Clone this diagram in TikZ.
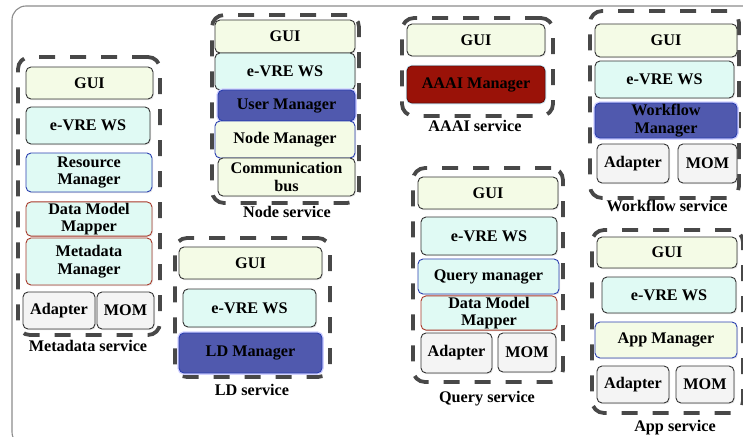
\documentclass[tikz,border=0pt]{standalone}
\usepackage{fontspec}
\setmainfont{Liberation Serif}
\usetikzlibrary{shadows}
\definecolor{guiC}{HTML}{F4FBE6}
\definecolor{wsC}{HTML}{E0FAF4}
\definecolor{dblue}{HTML}{5059AE}
\definecolor{dred}{HTML}{9A1208}
\definecolor{grayF}{HTML}{F4F4F4}
\definecolor{bblue}{HTML}{2A3FB0}
\definecolor{bred}{HTML}{A8392A}
\definecolor{dashC}{HTML}{484848}
\definecolor{frameC}{HTML}{8C8C8C}
\tikzset{
  box/.style={draw=black!80, line width=0.9pt, rounded corners=5pt, inner sep=1pt,
    align=center, font=\fontsize{16.2}{17.5}\selectfont\bfseries,
    drop shadow={opacity=0.18, shadow xshift=1pt, shadow yshift=-1.2pt}},
  gui/.style={box, fill=guiC},
  ws/.style={box, fill=wsC},
  bluebox/.style={box, fill=wsC, draw=bblue},
  redbox/.style={box, fill=wsC, draw=bred},
  yblue/.style={box, fill=guiC, draw=bblue},
  darkblue/.style={box, fill=dblue, draw=bblue, preaction={draw=blue!18, line width=3.5pt}},
  darkred/.style={box, fill=dred, draw=dred!70!black, preaction={draw=cyan!25, line width=2.5pt}},
  gbox/.style={box, fill=grayF},
  dbox/.style={draw=dashC, line width=3.8pt, dash pattern=on 16pt off 15pt, rounded corners=12pt, inner sep=0pt},
  lbl/.style={font=\fontsize{16.2}{17.5}\selectfont\bfseries, inner sep=0pt}
}
\begin{document}
\begin{tikzpicture}[x=1pt, y=-1pt]
\useasboundingbox (0,0) rectangle (743,436);
\begin{scope}
\clip (0,0) rectangle (743,436);
\node[draw=frameC, line width=1.1pt, rounded corners=14pt, minimum width=760pt, minimum height=440pt, inner sep=0pt] (frame) at (392,226) {};

% Metadata service
\node[dbox, minimum width=142pt, minimum height=278pt] (mdD) at (89,196) {};
\node[gui, minimum width=127pt, minimum height=32pt] (mdG) at (89.5,83) {GUI};
\node[ws, minimum width=124pt, minimum height=37pt] (mdW) at (88,125.5) {e-VRE WS};
\node[bluebox, minimum width=126pt, minimum height=39pt] (mdR) at (89,172.5) {Resource\\Manager};
\node[redbox, minimum width=126pt, minimum height=32pt] (mdM) at (89,219) {Data Model\\Mapper};
\node[redbox, minimum width=126pt, minimum height=47pt] (mdMM) at (89,261.5) {Metadata\\Manager};
\node[gbox, minimum width=72pt, minimum height=37pt] (mdA) at (59,310.5) {Adapter};
\node[gbox, minimum width=57pt, minimum height=37pt] (mdO) at (125.5,310.5) {MOM};
\node[lbl] (mdL) at (88,346) {Metadata service};

% Node service
\node[dbox, minimum width=147pt, minimum height=188pt] (ndD) at (285.5,109) {};
\node[gui, minimum width=140pt, minimum height=33pt] (ndG) at (285,36.5) {GUI};
\node[ws, minimum width=140pt, minimum height=37pt] (ndW) at (285,71.5) {e-VRE WS};
\node[darkblue, minimum width=137pt, minimum height=31pt] (ndU) at (286.5,105.5) {User Manager};
\node[yblue, minimum width=140pt, minimum height=37pt] (ndN) at (285,139.5) {Node Manager};
\node[gui, minimum width=137pt, minimum height=38pt] (ndC) at (286.5,177) {Communication\\bus};
\node[lbl] (ndL) at (287,212) {Node service};

% LD service
\node[dbox, minimum width=155pt, minimum height=139pt] (ldD) at (252.5,307.5) {};
\node[gui, minimum width=143pt, minimum height=32pt] (ldG) at (250.5,263) {GUI};
\node[ws, minimum width=133pt, minimum height=38pt] (ldW) at (249.5,308) {e-VRE WS};
\node[darkblue, minimum width=143pt, minimum height=40pt] (ldM) at (250.5,353) {LD Manager};
\node[lbl] (ldL) at (252,390) {LD service};

% AAAI service
\node[dbox, minimum width=151pt, minimum height=98pt] (aaD) at (477.5,67) {};
\node[gui, minimum width=138pt, minimum height=32pt] (aaG) at (476,40) {GUI};
\node[darkred, minimum width=138pt, minimum height=37pt] (aaM) at (476,84.5) {AAAI Manager};
\node[lbl] (aaL) at (475,126) {AAAI service};

% Query service
\node[dbox, minimum width=150pt, minimum height=214pt] (qD) at (488,275) {};
\node[gui, minimum width=140pt, minimum height=32pt] (qG) at (488,193) {GUI};
\node[ws, minimum width=136pt, minimum height=38pt] (qW) at (489,236) {e-VRE WS};
\node[bluebox, minimum width=141pt, minimum height=35pt] (qQ) at (488.5,276.5) {Query manager};
\node[redbox, minimum width=136pt, minimum height=32pt] (qM) at (489,313) {Data Model\\Mapper};
\node[gbox, minimum width=71pt, minimum height=40pt] (qA) at (456.5,353) {Adapter};
\node[gbox, minimum width=58pt, minimum height=39pt] (qO) at (527,352.5) {MOM};
\node[lbl] (qL) at (487,399) {Query service};

% Workflow service
\node[dbox, minimum width=149pt, minimum height=187pt] (wfD) at (664.5,104.5) {};
\node[gui, minimum width=142pt, minimum height=33pt] (wfG) at (666,40.5) {GUI};
\node[ws, minimum width=139pt, minimum height=37pt] (wfW) at (664.5,79.5) {e-VRE WS};
\node[darkblue, minimum width=142pt, minimum height=35pt] (wfM) at (666,120.5) {Workflow\\Manager};
\node[gbox, minimum width=72pt, minimum height=39pt] (wfA) at (633,163.5) {Adapter};
\node[gbox, minimum width=59pt, minimum height=39pt] (wfO) at (707.5,163.5) {MOM};
\node[lbl] (wfL) at (667,206) {Workflow service};

% App service
\node[dbox, minimum width=151pt, minimum height=183pt] (apD) at (667.5,321.5) {};
\node[gui, minimum width=140pt, minimum height=31pt] (apG) at (667,252.5) {GUI};
\node[ws, minimum width=134pt, minimum height=36pt] (apW) at (669,295) {e-VRE WS};
\node[yblue, minimum width=142pt, minimum height=36pt] (apM) at (666,340) {App Manager};
\node[gbox, minimum width=72pt, minimum height=37pt] (apA) at (633,384.5) {Adapter};
\node[gbox, minimum width=58pt, minimum height=37pt] (apO) at (705,384.5) {MOM};
\node[lbl] (apL) at (675,428) {App service};
\end{scope}
\end{tikzpicture}
\end{document}
